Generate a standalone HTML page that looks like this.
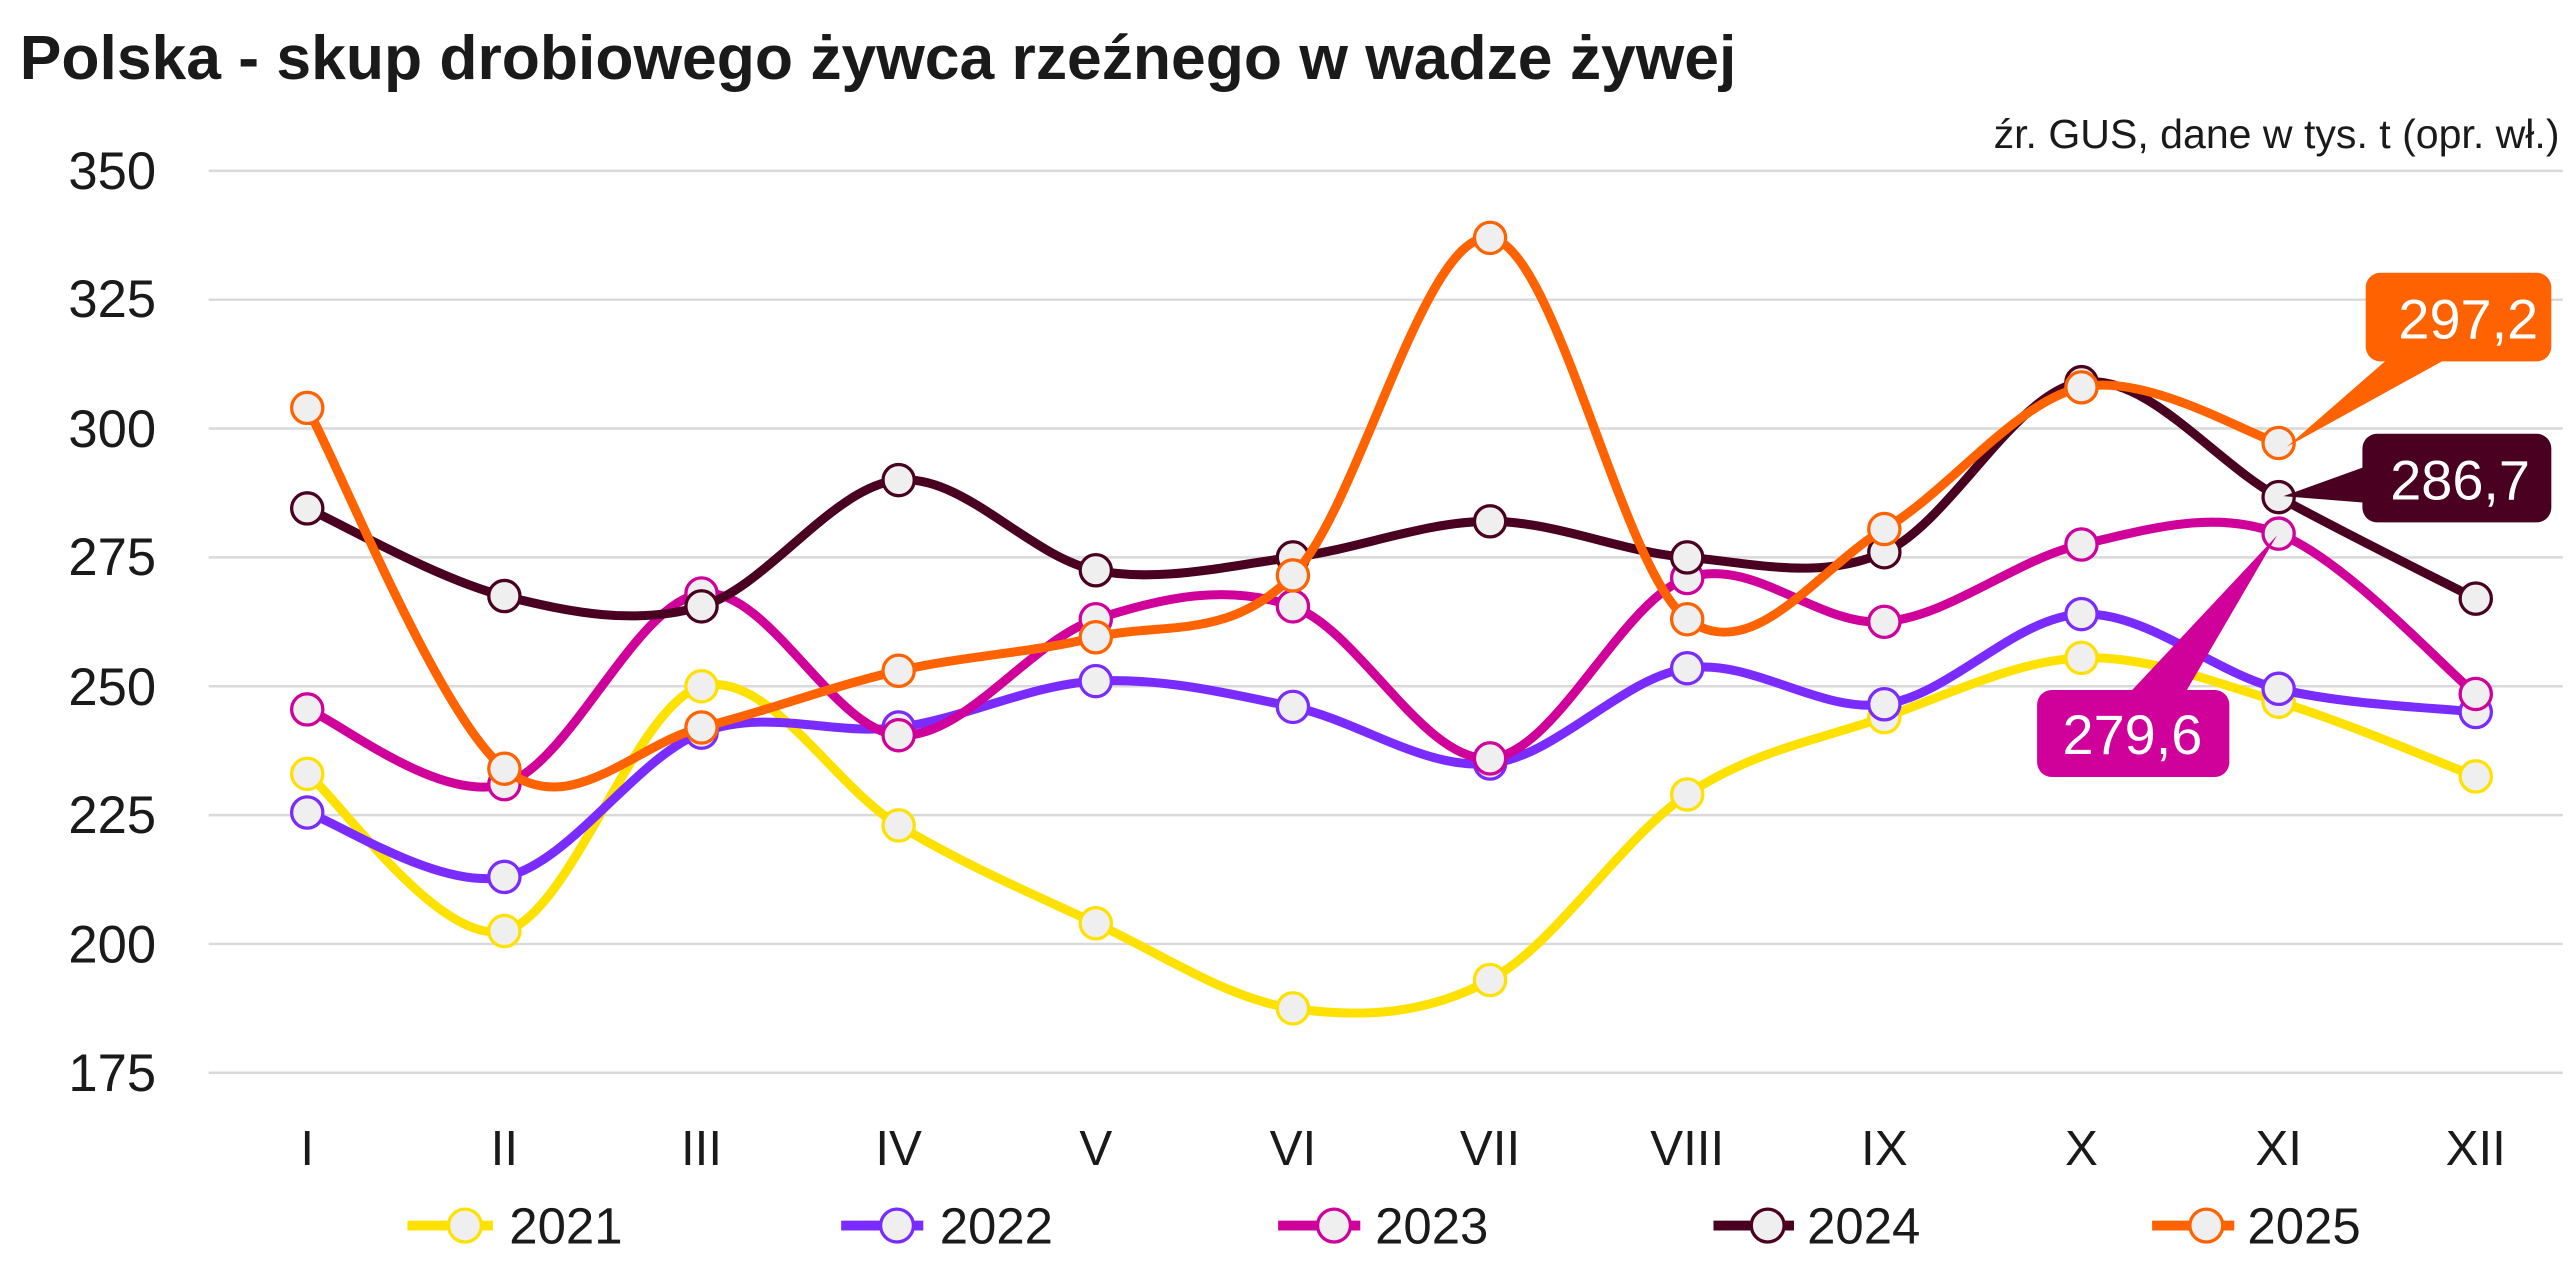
<!DOCTYPE html>
<html><head><meta charset="utf-8">
<style>
html,body{margin:0;padding:0;background:#fff;}
svg{display:block;font-family:"Liberation Sans",sans-serif;}
</style></head>
<body>
<svg id="c" width="2576" height="1274" viewBox="0 0 1568 775.5" xmlns="http://www.w3.org/2000/svg">
<text x="12" y="48" font-size="38" font-weight="bold" fill="#1a1a1a">Polska - skup drobiowego żywca rzeźnego w wadze żywej</text>
<text x="1558" y="90" font-size="25" text-anchor="end" fill="#1a1a1a">źr. GUS, dane w tys. t (opr. wł.)</text>
<g id="grid" stroke="#d9d9d9" stroke-width="1.5"></g>
<g id="ylab" font-size="32" fill="#1a1a1a" text-anchor="end">
<text x="95" y="115">350</text><text x="95" y="193">325</text><text x="95" y="272">300</text><text x="95" y="350">275</text><text x="95" y="429">250</text><text x="95" y="507">225</text><text x="95" y="586">200</text><text x="95" y="664">175</text>
</g>
<g font-size="30" fill="#1a1a1a" text-anchor="middle">
<text x="187" y="709">I</text><text x="307" y="709">II</text><text x="427" y="709">III</text><text x="547" y="709">IV</text><text x="667" y="709">V</text><text x="787" y="709">VI</text><text x="907" y="709">VII</text><text x="1027" y="709">VIII</text><text x="1147" y="709">IX</text><text x="1267" y="709">X</text><text x="1387" y="709">XI</text><text x="1507" y="709">XII</text>
</g>
<g id="series"></g>
<g font-size="31" fill="#1a1a1a">
<line x1="248" y1="746" x2="300" y2="746" stroke="#FFE100" stroke-width="6"/><circle cx="283" cy="746" r="10" fill="#efefef" stroke="#FFE100" stroke-width="2"/><text x="310" y="757">2021</text>
<line x1="512" y1="746" x2="562" y2="746" stroke="#7A2BFF" stroke-width="6"/><circle cx="546" cy="746" r="10" fill="#efefef" stroke="#7A2BFF" stroke-width="2"/><text x="572" y="757">2022</text>
<line x1="778" y1="746" x2="828" y2="746" stroke="#D0009B" stroke-width="6"/><circle cx="812" cy="746" r="10" fill="#efefef" stroke="#D0009B" stroke-width="2"/><text x="837" y="757">2023</text>
<line x1="1043" y1="746" x2="1092" y2="746" stroke="#4A0020" stroke-width="6"/><circle cx="1076" cy="746" r="10" fill="#efefef" stroke="#4A0020" stroke-width="2"/><text x="1100" y="757">2024</text>
<line x1="1310" y1="746" x2="1360" y2="746" stroke="#FF6200" stroke-width="6"/><circle cx="1343" cy="746" r="10" fill="#efefef" stroke="#FF6200" stroke-width="2"/><text x="1368" y="757">2025</text>
</g>
<g id="callouts">
<polygon points="1392,272 1454,218 1490,218" fill="#FF6200"/>
<rect x="1440" y="166" width="113" height="54" rx="9" fill="#FF6200"/>
<text x="1545" y="206" font-size="34" fill="#fff" text-anchor="end">297,2</text>
<polygon points="1390,302 1440,284 1440,306" fill="#4A0020"/>
<rect x="1438" y="264" width="115" height="54" rx="9" fill="#4A0020"/>
<text x="1540" y="304" font-size="34" fill="#fff" text-anchor="end">286,7</text>
<polygon points="1386,326 1296,422 1330,422" fill="#D0009B"/>
<rect x="1240" y="420" width="117" height="53" rx="9" fill="#D0009B"/>
<text x="1298" y="459" font-size="34" fill="#fff" text-anchor="middle">279,6</text>
</g>
</svg>
<script>
var NS="http://www.w3.org/2000/svg";
function Y(v){return 104+(350-v)*78.43/25;}
function X(i){return 187+i*120;}
var g=document.getElementById('grid');
for(var v=175;v<=350;v+=25){var l=document.createElementNS(NS,'line');l.setAttribute('x1',127);l.setAttribute('x2',1560);l.setAttribute('y1',Y(v));l.setAttribute('y2',Y(v));g.appendChild(l);}
var data=[
["#FFE100",[233,202.5,250,223,204,187.5,193,229,244,255.5,247,232.5]],
["#7A2BFF",[225.5,213,241,242,251,246,235,253.5,246.5,264,249.5,245]],
["#D0009B",[245.5,231,268,240.5,263,265.5,236,271,262.5,277.5,279.6,248.5]],
["#4A0020",[284.5,267.5,265.5,290,272.5,275,282,275,276,309,286.7,267]],
["#FF6200",[304,234,242,253,259.5,271.5,337,263,280.5,308,297.2]]];
var s=document.getElementById('series');
data.forEach(function(d){
 var p=d[1].map(function(v,i){return [X(i),Y(v)];});
 var str="M"+p[0][0]+","+p[0][1];
 for(var i=0;i<p.length-1;i++){
  var p0=p[i-1]||p[i],p1=p[i],p2=p[i+1],p3=p[i+2]||p[i+1];
  var c1=[p1[0]+(p2[0]-p0[0])/6,p1[1]+(p2[1]-p0[1])/6];
  var c2=[p2[0]-(p3[0]-p1[0])/6,p2[1]-(p3[1]-p1[1])/6];
  str+=" C"+c1+" "+c2+" "+p2;
 }
 var path=document.createElementNS(NS,'path');
 path.setAttribute('d',str);path.setAttribute('fill','none');path.setAttribute('stroke',d[0]);path.setAttribute('stroke-width',5.5);path.setAttribute('stroke-linejoin','round');
 s.appendChild(path);
 p.forEach(function(q){var c=document.createElementNS(NS,'circle');c.setAttribute('cx',q[0]);c.setAttribute('cy',q[1]);c.setAttribute('r',9.5);c.setAttribute('fill','#efefef');c.setAttribute('stroke',d[0]);c.setAttribute('stroke-width',2);s.appendChild(c);});
});
</script>
</body></html>
